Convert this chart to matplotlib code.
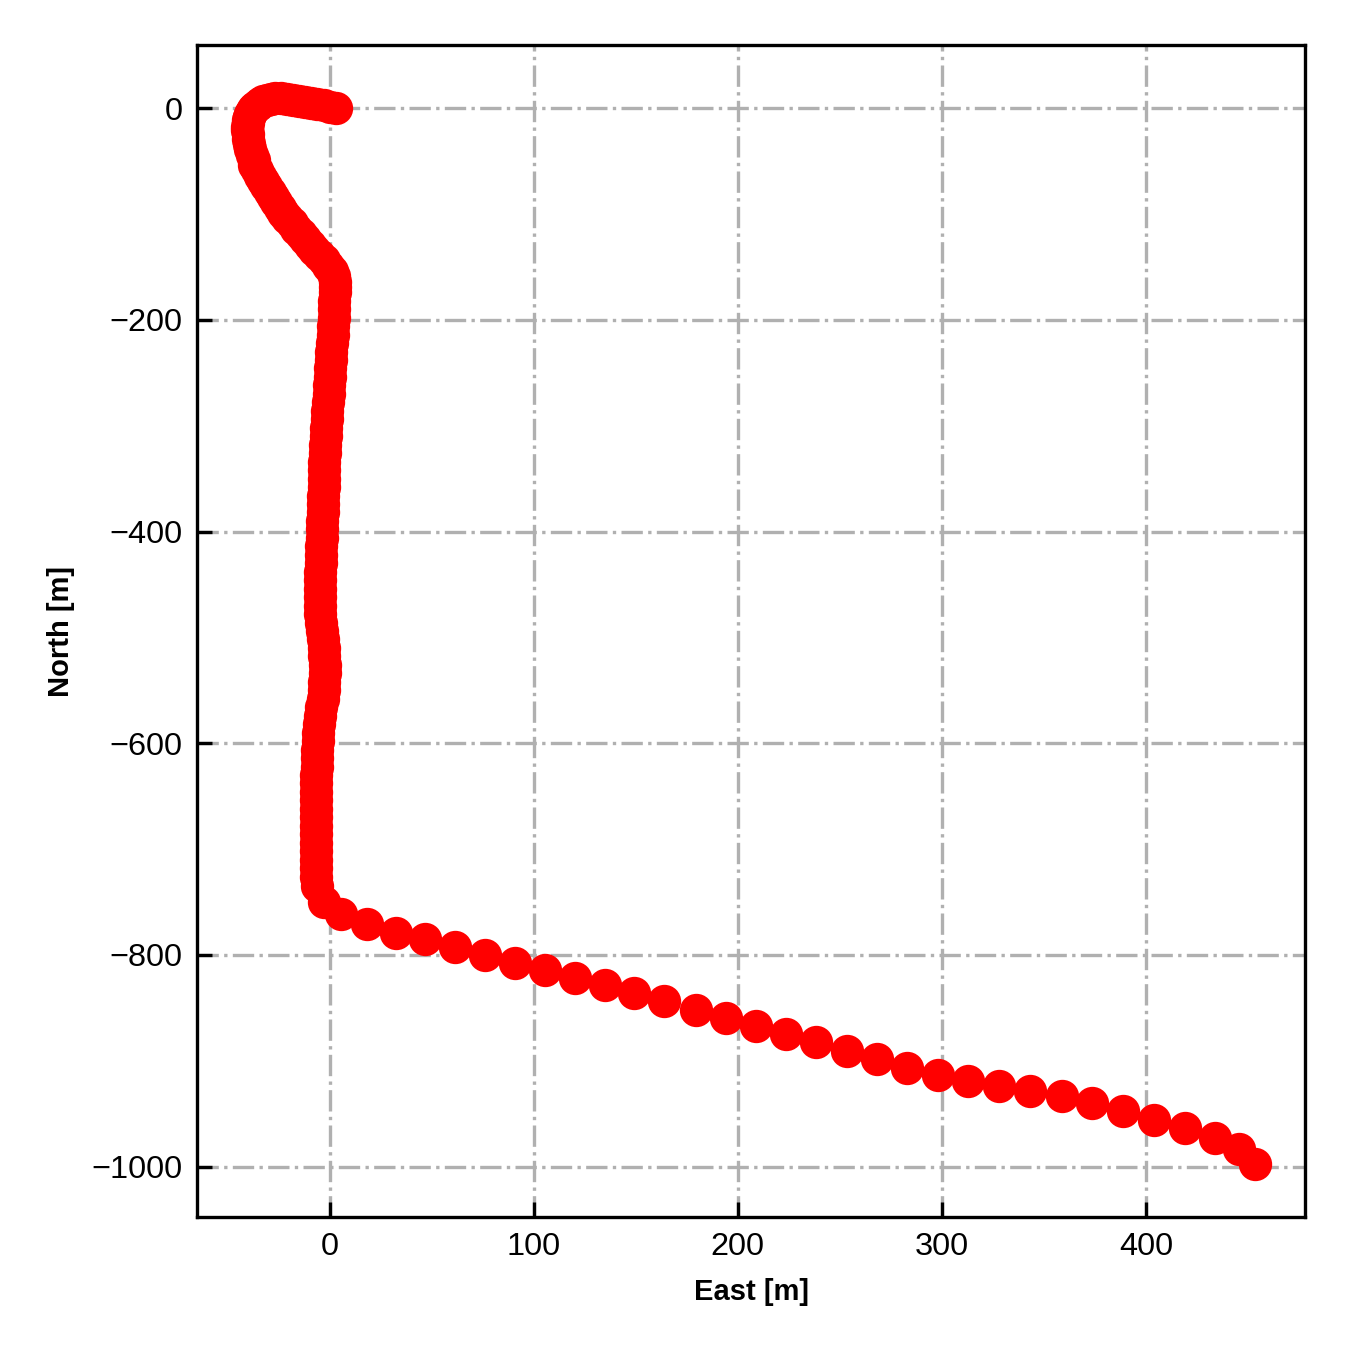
import matplotlib
matplotlib.use('Agg')
import matplotlib.pyplot as plt

plt.rcParams['font.family'] = ['Liberation Sans', 'DejaVu Sans']

# well path, east / north coordinates in metres
# build-up hook near the surface
hook_east = [2.9, 0.0, -3.0, -6.0, -9.0, -12.0, -15.0, -18.0, -21.0, -24.0,
             -27.0, -29.0, -30.8, -32.5, -34.0, -35.3, -36.5, -37.4, -38.2, -39.0,
             -39.6, -40.0, -40.2, -40.3, -40.3, -40.2, -40.0, -39.6, -39.0, -38.2,
             -37.3, -36.9, -35.6, -34.1, -32.6, -31.0,
             -29.4, -27.9, -26.3, -24.6, -22.8, -20.8, -18.7, -16.5, -14.3, -12.0,
             -9.8, -7.5, -5.2, -2.9, -0.7, 1.0, 2.0, 2.5, 2.6, 2.5]
hook_north = [0.0, 1.2, 2.5, 3.7, 4.9, 6.0, 7.0, 7.9, 8.6, 9.0,
              9.0, 8.6, 7.7, 6.5, 5.0, 3.3, 1.3, -0.8, -3.2, -5.8,
              -8.6, -11.5, -14.5, -17.5, -21.0, -24.5, -29.0, -34.0, -39.0, -44.0,
              -49.0, -54.0, -59.0, -64.0, -69.0, -74.0,
              -79.0, -84.0, -89.0, -94.0, -99.0, -104.0, -109.0, -114.0, -119.0, -124.0,
              -129.0, -134.0, -139.0, -144.0, -149.0, -154.0, -159.0, -164.0, -169.0, -174.0]

# near-vertical section
vert_east = [2.3, 2.1, 1.9, 1.7, 1.4, 1.1, 0.8, 0.5, 0.3, 0.0,
             -0.2, -0.5, -0.8, -1.1, -1.4, -1.7, -2.0, -2.2, -2.4, -2.6,
             -2.7, -2.9, -3.0, -3.2, -3.4, -3.5, -3.7, -3.9, -4.0, -4.1,
             -4.3, -4.4, -4.6, -4.7, -4.8, -4.9, -4.9, -4.7, -4.2, -3.7,
             -3.3, -3.0, -2.7, -2.5, -2.5, -2.6, -2.8, -3.3, -4.1, -4.8,
             -5.3, -5.6, -5.9, -6.1, -6.2, -6.4, -6.5, -6.6, -6.6, -6.6,
             -6.6, -6.6, -6.6, -6.6, -6.6, -6.6, -6.6, -6.6, -6.5]
vert_north = [-182, -190, -198, -206, -214, -222, -230, -238, -246, -254,
              -262, -270, -278, -286, -294, -302, -310, -318, -326, -334,
              -342, -350, -358, -366, -374, -382, -390, -398, -406, -414,
              -422, -430, -438, -446, -454, -462, -470, -478, -486, -494,
              -502, -510, -518, -526, -534, -542, -550, -558, -566, -574,
              -582, -590, -598, -606, -614, -622, -630, -638, -646, -654,
              -662, -670, -678, -686, -694, -702, -710, -718, -726]

# horizontal tail
tail_east = [-6.4, -2.9, 5.4, 18.2, 32.4, 46.6, 61.3, 76.1, 90.8, 105.6,
             120.2, 135.0, 149.2, 163.9, 179.6, 194.4, 209.1, 223.8, 238.5, 253.3,
             268.0, 282.7, 297.9, 312.6, 327.9, 343.1, 358.8, 373.5, 388.7, 403.9,
             419.1, 433.9, 445.6, 453.5]
tail_north = [-734.4, -749.5, -760.9, -770.3, -778.8, -784.5, -792.1, -799.6, -807.2, -813.8,
              -821.4, -828.0, -835.5, -843.1, -851.6, -859.2, -866.7, -874.3, -881.9, -890.4,
              -897.9, -906.4, -913.0, -918.7, -923.4, -928.2, -932.9, -939.5, -947.1, -955.6,
              -963.1, -972.6, -983.0, -997.2]

east = hook_east + vert_east + tail_east
north = hook_north + vert_north + tail_north

fig = plt.figure(figsize=(4.5, 4.5), dpi=300)
ax = fig.add_axes([0.146, 0.0985, 0.821, 0.868])

ax.plot(east, north, 'ro', markersize=7)

ax.grid(True, linestyle='-.')
ax.tick_params(direction='in', labelsize=7.8)
ax.set_xticks([0, 100, 200, 300, 400])
ax.set_yticks([0, -200, -400, -600, -800, -1000])
ax.set_xlabel('East [m]', fontsize=7, fontweight='bold')
ax.set_ylabel('North [m]', fontsize=7, fontweight='bold')

fig.savefig('out.png', dpi=300)
